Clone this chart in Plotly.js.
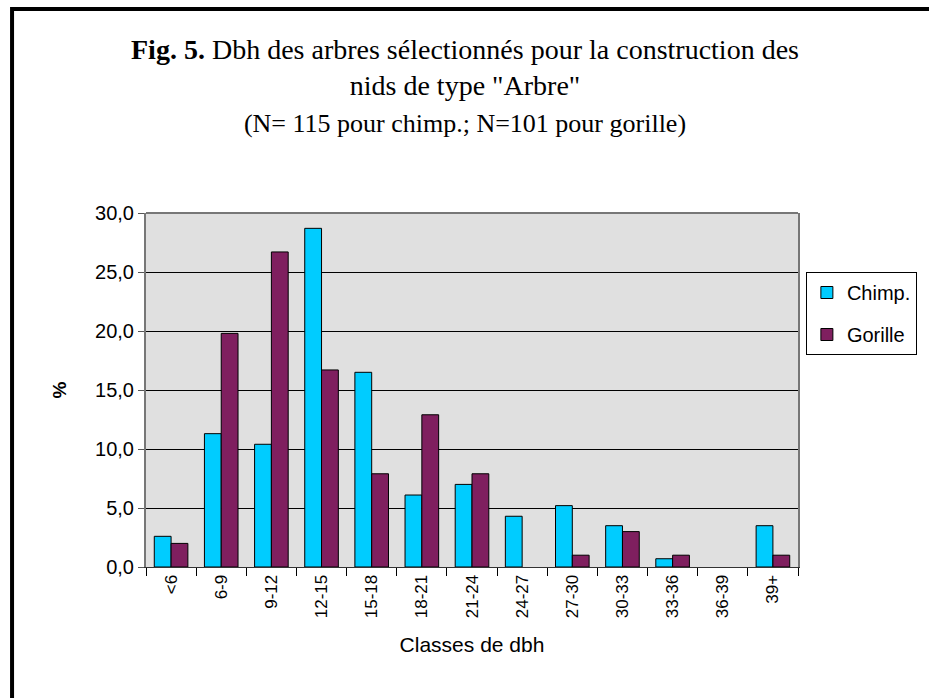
<!DOCTYPE html>
<html>
<head>
<meta charset="utf-8">
<script src="https://cdn.plot.ly/plotly-3.0.1.min.js"></script>
<style>
  html, body { margin: 0; padding: 0; background: #ffffff; }
  #chart { width: 929px; height: 698px; }
</style>
</head>
<body>
<div id="chart"></div>
<script>
// Categories (dbh classes, cm)
const categories = ["<6", "6-9", "9-12", "12-15", "15-18", "18-21", "21-24", "24-27", "27-30", "30-33", "33-36", "36-39", "39+"];
// Percent of nests per class
const chimpValues   = [2.6, 11.3, 10.4, 28.7, 16.5, 6.1, 7.0, 4.3, 5.2, 3.5, 0.7, 0.0, 3.5];
const gorilleValues = [2.0, 19.8, 26.7, 16.7, 7.9, 12.9, 7.9, 0.0, 1.0, 3.0, 1.0, 0.0, 1.0];
const yTicks = [0, 5, 10, 15, 20, 25, 30];

const L = 146, R = 121, T = 213, B = 131;
const W = 929, H = 698;
const pw = W - L - R, ph = H - T - B;
const px2x = p => (p - L) / pw;
const py2y = p => (H - B - p) / ph;
const edge = vals => vals.map(v => (v > 0 ? 1 : 0));

const traces = [
  {
    type: "bar", name: "Chimp.", x: categories, y: chimpValues,
    marker: { color: "#00CCFF", line: { color: "#000000", width: edge(chimpValues) } },
    legendgroup: "a"
  },
  {
    type: "bar", name: "Gorille", x: categories, y: gorilleValues,
    marker: { color: "#7F1F5F", line: { color: "#000000", width: edge(gorilleValues) } },
    legendgroup: "b"
  }
];

const layout = {
  width: W, height: H,
  margin: { l: L, r: R, t: T, b: B, pad: 0 },
  paper_bgcolor: "#ffffff",
  plot_bgcolor: "#E0E0E0",
  separators: ",.",
  barmode: "group",
  bargap: 0.33,
  bargroupgap: 0,
  showlegend: true,
  title: {
    text: "<b>Fig. 5.</b> Dbh des arbres sélectionnés pour la construction des<br>nids de type \"Arbre\"<br><span style=\"font-size:26px\">(N= 115 pour chimp.; N=101 pour gorille)</span>",
    font: { family: "Liberation Serif, Times New Roman, serif", size: 28, color: "#000000" },
    x: 465 / W, xanchor: "center",
    xref: "container", yref: "container",
    y: 1 - 59 / H, yanchor: "top"
  },
  legend: {
    x: px2x(816), y: py2y(272), xanchor: "left", yanchor: "top",
    bgcolor: "#ffffff", bordercolor: "#000000", borderwidth: 1,
    font: { family: "Liberation Sans, Arial, sans-serif", size: 20, color: "#000000" },
    tracegroupgap: 13,
    itemwidth: 30
  },
  xaxis: {
    type: "category",
    tickangle: -90,
    ticks: "outside", tickson: "boundaries", ticklen: 8, tickcolor: "#000000",
    tickfont: { family: "Liberation Sans, Arial, sans-serif", size: 17, color: "#000000" },
    showline: true, linecolor: "#333333", linewidth: 1, mirror: false,
    showgrid: false,
    title: { text: "Classes de dbh", font: { family: "Liberation Sans, Arial, sans-serif", size: 21, color: "#000000" }, standoff: 20 },
    automargin: false, fixedrange: true
  },
  yaxis: {
    range: [0, 30],
    tickvals: yTicks, tickformat: ".1f",
    ticks: "outside", ticklen: 6, tickcolor: "#555555",
    tickfont: { family: "Liberation Sans, Arial, sans-serif", size: 20, color: "#000000" },
    showline: true, linecolor: "#777777", linewidth: 2, mirror: true,
    showgrid: true, gridcolor: "#000000", gridwidth: 1,
    zeroline: false,
    title: { text: "<b>%</b>", font: { family: "Liberation Sans, Arial, sans-serif", size: 19, color: "#000000" }, standoff: 23 },
    automargin: false, fixedrange: true
  },
  shapes: [
    {
      type: "rect", xref: "paper", yref: "paper",
      x0: px2x(10), x1: px2x(960), y0: py2y(720), y1: py2y(9),
      line: { color: "#000000", width: 4 }, fillcolor: "rgba(0,0,0,0)", layer: "above"
    },
    {
      type: "line", xref: "paper", yref: "paper",
      x0: 0, x1: 1, y0: 1, y1: 1,
      line: { color: "#777777", width: 2 }, layer: "above"
    }
  ]
};

Plotly.newPlot("chart", traces, layout, { staticPlot: true, displayModeBar: false });
</script>
</body>
</html>
